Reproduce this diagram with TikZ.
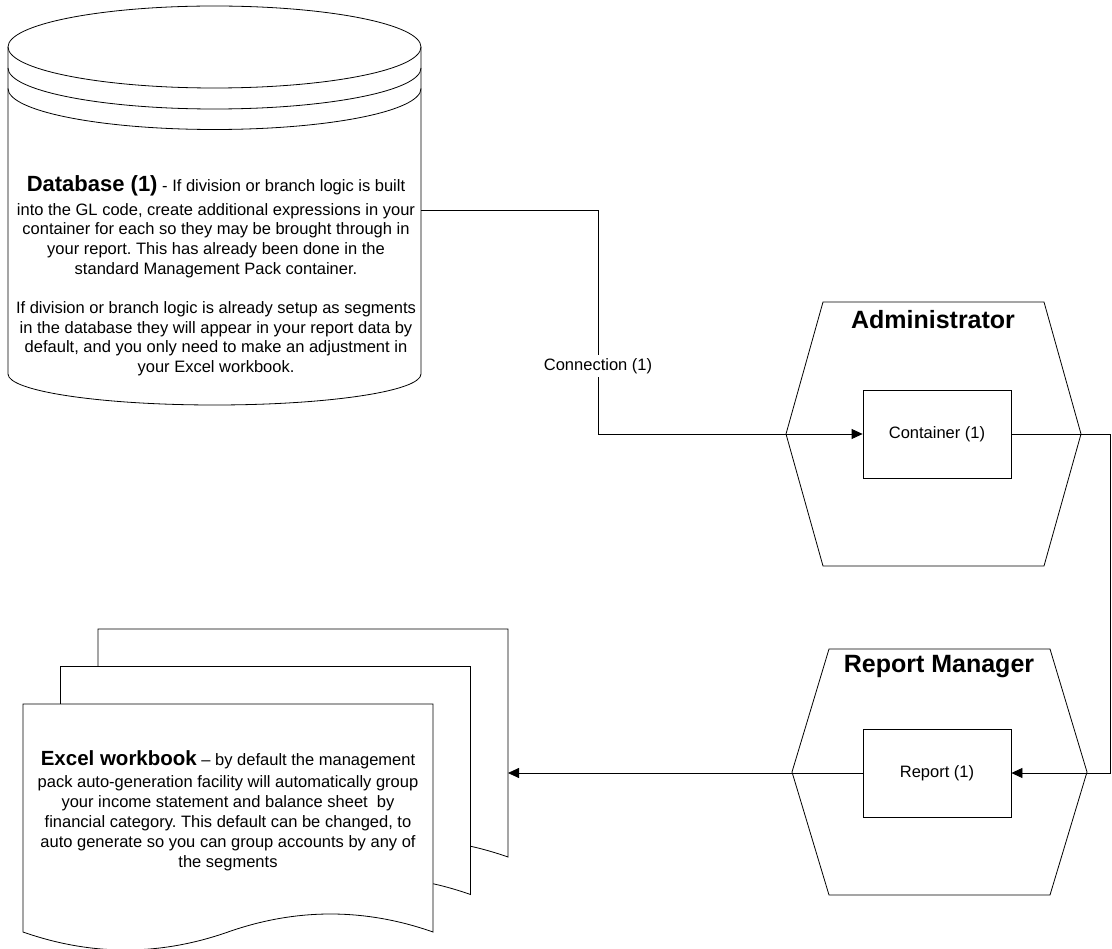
\documentclass[tikz,border=0pt]{standalone}
\usepackage{fontspec}
\setmainfont{Liberation Sans}
\usetikzlibrary{arrows.meta}
\frenchspacing

\begin{document}
\begin{tikzpicture}[x=1pt, y=-1pt, line width=0.8pt,
    txt/.style={font=\fontsize{16.5}{19.7}\selectfont, align=center, inner sep=0pt},
    role/.style={font=\bfseries\fontsize{25}{30}\selectfont},
    box/.style={draw, minimum width=148pt, minimum height=88pt, font=\fontsize{16.5}{19.7}\selectfont},
    flow/.style={-{Triangle[length=11pt, width=10pt]}}]
    \useasboundingbox (0,0) rectangle (1112,949);

    % Database
    \draw (8,47) -- (8,374) arc[start angle=180, end angle=0, x radius=206.5, y radius=31] -- (421,47);
    \draw (214.5,47) ellipse [x radius=206.5, y radius=41];
    \draw (8,68) arc[start angle=180, end angle=0, x radius=206.5, y radius=41];
    \draw (8,88.5) arc[start angle=180, end angle=0, x radius=206.5, y radius=41];
    \node[txt, anchor=north] (dbtext) at (216,175) {{\bfseries\fontsize{22}{24}\selectfont Database (1)} - If division or branch logic is built\\[4pt]
        into the GL code, create additional expressions in your\\
        container for each so they may be brought through in\\
        your report. This has already been done in the\\
        standard Management Pack container.\\[19.7pt]
        If division or branch logic is already setup as segments\\
        in the database they will appear in your report data by\\
        default, and you only need to make an adjustment in\\
        your Excel workbook.};
    \coordinate (db) at (421,210);

    % Administrator
    \draw (823,302) -- (1044,302) -- (1081,434) -- (1044,566) -- (823,566) -- (786,434) -- cycle;
    \node[role] (admin) at (933,320) {Administrator};
    \node[box] (cont) at (937,434) {Container (1)};

    % Report Manager
    \draw (829,649) -- (1050,649) -- (1087,772) -- (1050,895) -- (829,895) -- (792,772) -- cycle;
    \node[role] (repman) at (939,667) {Report Manager};
    \node[box] (rep) at (937,773) {Report (1)};

    % Excel workbook pages
    \foreach \i in {2,1,0} {
        \begin{scope}[shift={(23+37.5*\i, 704-37.5*\i)}]
            \draw[fill=white] (0,0) -- (410,0) -- (410,228) .. controls (341.7,204) and (273.3,204) .. (205,228)
                .. controls (136.7,252) and (68.3,252) .. (0,228) -- cycle;
        \end{scope}
    }
    \node[txt, anchor=north, font=\fontsize{16.5}{20}\selectfont] (wbtext) at (228,750) {{\bfseries\fontsize{20.5}{22}\selectfont Excel workbook} – by default the management\\[2pt]
        pack auto-generation facility will automatically group\\
        your income statement and balance sheet\ \ by\\
        financial category. This default can be changed, to\\
        auto generate so you can group accounts by any of\\
        the segments};
    \coordinate (wb) at (508,773);

    % Connectors
    \node[txt, inner sep=3pt] (conn) at (598,366) {Connection (1)};
    \draw[flow] (db) -| (conn) |- (cont.west);
    \draw[flow] (cont.east) -- ++(99,0) |- (rep.east);
    \draw[flow] (rep.west) -- (wb);
\end{tikzpicture}
\end{document}
